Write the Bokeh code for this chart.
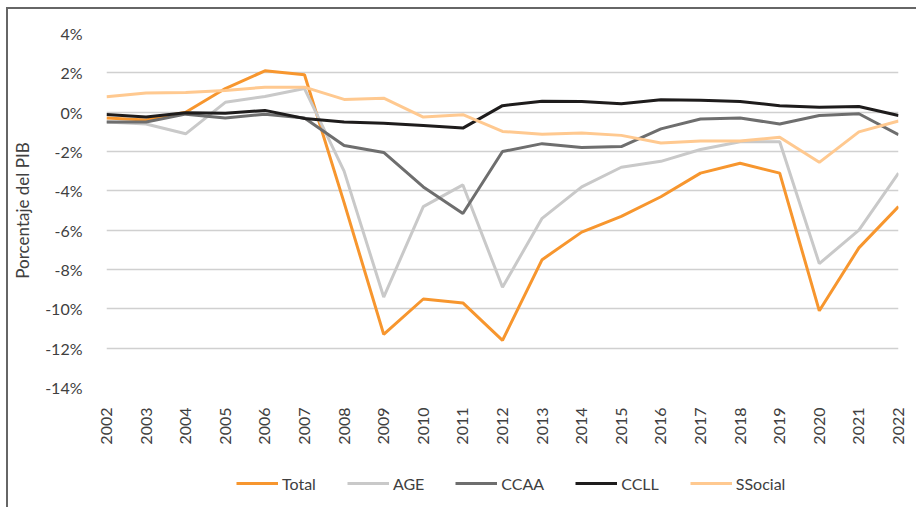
import math
from bokeh.plotting import figure
from bokeh.layouts import column
from bokeh.models import FixedTicker, PrintfTickFormatter, Legend, LegendItem, ColumnDataSource
from bokeh.embed import file_html
from bokeh.resources import INLINE

years = list(range(2002, 2023))
total = [-0.3, -0.4, 0.0, 1.2, 2.1, 1.9, -4.6, -11.3, -9.5, -9.7, -11.6, -7.5, -6.1, -5.3, -4.3, -3.1, -2.6, -3.1, -10.1, -6.9, -4.8]
age = [-0.5, -0.6, -1.1, 0.5, 0.8, 1.2, -3.0, -9.4, -4.8, -3.7, -8.9, -5.4, -3.8, -2.8, -2.5, -1.9, -1.5, -1.5, -7.7, -6.0, -3.1]
ccaa = [-0.5, -0.5, -0.1, -0.3, -0.1, -0.3, -1.7, -2.05, -3.8, -5.15, -2.0, -1.6, -1.8, -1.75, -0.85, -0.35, -0.3, -0.6, -0.17, -0.08, -1.15]
ccll = [-0.12, -0.25, -0.03, -0.05, 0.09, -0.32, -0.5, -0.56, -0.68, -0.81, 0.33, 0.56, 0.54, 0.43, 0.63, 0.6, 0.54, 0.33, 0.25, 0.29, -0.17]
ssocial = [0.78, 0.98, 1.0, 1.1, 1.27, 1.27, 0.65, 0.71, -0.25, -0.13, -0.98, -1.12, -1.06, -1.18, -1.57, -1.47, -1.47, -1.27, -2.55, -1.0, -0.45]

series_names = ["Total", "AGE", "CCAA", "CCLL", "SSocial"]
series_values = [total, age, ccaa, ccll, ssocial]
series_colors = ["#F7962E", "#C9C9C9", "#6E6E6E", "#1E1C1C", "#FFC990"]

y_ticks = list(range(-14, 5, 2))
x_ticks = years

FONT = "Lato"
TXT = "#404040"

p = figure(width=908, height=441, output_backend="svg", toolbar_location=None,
           x_range=(2002, 2022), y_range=(-14, 4),
           min_border_left=98, min_border_right=18, min_border_top=24, min_border_bottom=63)
p.outline_line_color = None
p.background_fill_color = "white"
p.border_fill_color = "white"

for name, vals, col in zip(series_names, series_values, series_colors):
    src = ColumnDataSource(dict(x=years, y=vals))
    p.line("x", "y", source=src, line_color=col, line_width=3)

p.xgrid.grid_line_color = None
p.ygrid.grid_line_color = "#D0D0D0"
p.ygrid.grid_line_width = 1.5

p.yaxis.ticker = FixedTicker(ticks=y_ticks)
p.yaxis.formatter = PrintfTickFormatter(format="%d%%")
p.xaxis.ticker = FixedTicker(ticks=x_ticks)
for ax in (p.xaxis[0], p.yaxis[0]):
    ax.axis_line_color = None
    ax.major_tick_line_color = None
    ax.minor_tick_line_color = None
    ax.major_label_text_font = FONT
    ax.major_label_text_font_size = "16px"
    ax.major_label_text_color = TXT
p.xaxis.major_label_orientation = math.pi / 2
p.xaxis.major_label_standoff = 14
p.yaxis.major_label_standoff = 18
p.yaxis.axis_label = "Porcentaje del PIB"
p.yaxis.axis_label_text_font = FONT
p.yaxis.axis_label_text_font_size = "17px"
p.yaxis.axis_label_text_font_style = "normal"
p.yaxis.axis_label_text_color = TXT
p.yaxis.axis_label_standoff = 9

# legend figure below the chart (its lines lie outside its visible range)
lf = figure(width=908, height=57, output_backend="svg", toolbar_location=None,
            x_range=(0, 1), y_range=(0, 1),
            min_border_left=0, min_border_right=0, min_border_top=0, min_border_bottom=0)
lf.axis.visible = False
lf.grid.visible = False
lf.outline_line_color = None
lf.border_fill_color = "white"
lf.background_fill_color = "white"
items = []
for name, col in zip(series_names, series_colors):
    r = lf.line(x=[-5, -4], y=[-5, -5], line_color=col, line_width=3)
    items.append(LegendItem(label=name, renderers=[r]))
legend = Legend(items=items, orientation="horizontal", location=(130, 14),
                label_text_font=FONT, label_text_font_size="16px", label_text_color=TXT,
                glyph_width=42, glyph_height=20, label_standoff=4, spacing=31,
                padding=4, margin=0, border_line_color=None, background_fill_alpha=0)
lf.add_layout(legend, "center")

layout = column(p, lf, spacing=0,
                styles={"margin-left": "6px", "margin-top": "7px",
                        "border-left": "2px solid #666666", "border-top": "2px solid #666666"})

open("out.html", "w").write(file_html(layout, INLINE))
